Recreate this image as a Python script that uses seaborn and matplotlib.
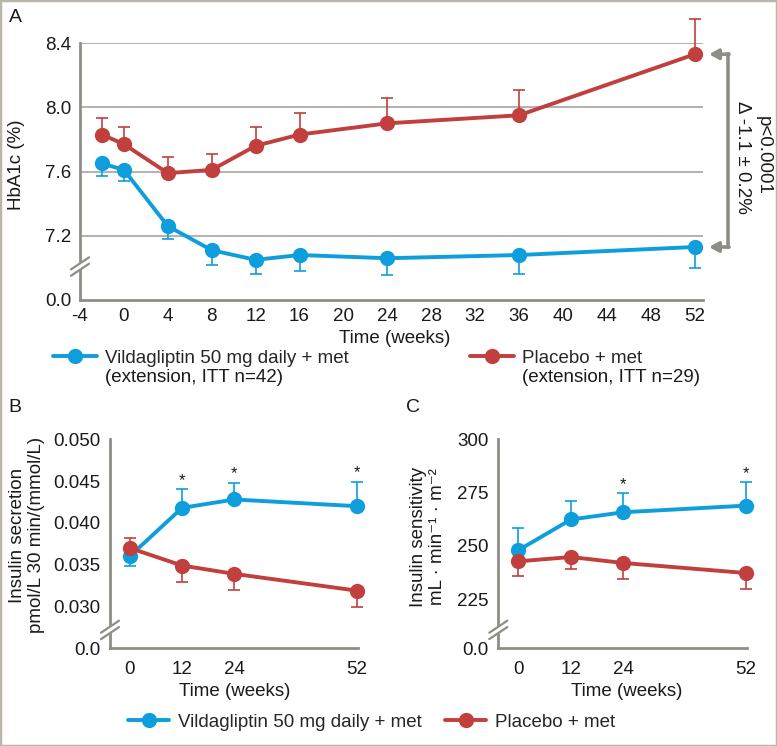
import matplotlib
matplotlib.use("Agg")
import matplotlib.pyplot as plt
import numpy as np
import pandas as pd
import seaborn as sns
from matplotlib.lines import Line2D
from matplotlib.patches import Rectangle

# ---------------- data ----------------
groups = ["Vildagliptin 50 mg daily + met", "Placebo + met"]

weeks_a = [-2, 0, 4, 8, 12, 16, 24, 36, 52]
vilda_a = [7.65, 7.61, 7.26, 7.11, 7.05, 7.08, 7.06, 7.08, 7.13]
vilda_a_lo = [0.08, 0.07, 0.08, 0.09, 0.09, 0.10, 0.105, 0.12, 0.13]
placebo_a = [7.83, 7.77, 7.59, 7.61, 7.76, 7.83, 7.90, 7.95, 8.33]
placebo_a_hi = [0.10, 0.11, 0.10, 0.10, 0.115, 0.135, 0.16, 0.155, 0.22]
yticks_a = [6.8, 7.2, 7.6, 8.0, 8.4]
yticklabels_a = ["0.0", "7.2", "7.6", "8.0", "8.4"]
xticks_a = [-4, 0, 4, 8, 12, 16, 20, 24, 28, 32, 36, 40, 44, 48, 52]

weeks_bc = [0, 12, 24, 52]
vilda_b = [0.0360, 0.0418, 0.0428, 0.0420]
vilda_b_lo = [0.0012, 0, 0, 0]
vilda_b_hi = [0, 0.0022, 0.0020, 0.0029]
placebo_b = [0.0370, 0.0349, 0.0339, 0.0319]
placebo_b_lo = [0, 0.0020, 0.0019, 0.0020]
placebo_b_hi = [0.0012, 0, 0, 0]
star_b = [False, True, True, True]
yticks_b = [0.025, 0.030, 0.035, 0.040, 0.045, 0.050]
yticklabels_b = ["0.0", "0.030", "0.035", "0.040", "0.045", "0.050"]

vilda_c = [248.0, 262.4, 265.8, 268.9]
vilda_c_lo = [0, 0, 0, 0]
vilda_c_hi = [10.5, 8.5, 9.0, 11.0]
placebo_c = [242.8, 244.8, 242.0, 237.3]
placebo_c_lo = [7.0, 5.5, 7.7, 7.6]
placebo_c_hi = [0, 0, 0, 0]
star_c = [False, False, True, True]
yticks_c = [202, 225, 250, 275, 300]
yticklabels_c = ["0.0", "225", "250", "275", "300"]

legend_a_line1 = ["Vildagliptin 50 mg daily + met", "Placebo + met"]
legend_a_line2 = ["(extension, ITT n=42)", "(extension, ITT n=29)"]

# ---------------- style ----------------
sns.set_theme(style="white")
plt.rcParams["font.family"] = ["Liberation Sans", "DejaVu Sans"]
BLUE = "#0e9edc"
RED = "#c1403e"
GRID = "#9c9c98"
SPINE = "#8e8d86"
TXT = "#1a1a1a"
FS = 13.5
palette = {groups[0]: BLUE, groups[1]: RED}

W, H = 777, 746
fig = plt.figure(figsize=(W / 100, H / 100), dpi=100)


def px_axes(l, r, t, b):
    return fig.add_axes([l / W, 1 - b / H, (r - l) / W, (b - t) / H])


ax_a = px_axes(80, 703, 43, 300)
ax_b = px_axes(110, 358, 439.3, 648.3)
ax_c = px_axes(498.3, 747.3, 439.3, 648.3)


def draw_series(ax, x, v_blue, blo, bhi, v_red, rlo, rhi, ms=11, capsize=4):
    for vals, lo, hi, col in [(v_blue, blo, bhi, BLUE), (v_red, rlo, rhi, RED)]:
        eb = ax.errorbar(x, vals, yerr=[lo, hi], fmt="none", ecolor=col,
                         elinewidth=1.2, capsize=capsize, capthick=1.2, zorder=1)
        for art in list(eb.lines[1]) + list(eb.lines[2]):
            art.set_clip_on(False)
    df = pd.DataFrame({
        "week": list(x) * 2,
        "value": list(v_blue) + list(v_red),
        "group": [groups[0]] * len(x) + [groups[1]] * len(x),
    })
    sns.lineplot(data=df, x="week", y="value", hue="group", palette=palette,
                 marker="o", markersize=ms, markeredgewidth=0, linewidth=2.8,
                 errorbar=None, legend=False, ax=ax, zorder=3, clip_on=False)


def style_axes(ax, xlim, ylim, xticks, yticks, yticklabels, xpad, ypad):
    ax.set_xlim(*xlim)
    ax.set_ylim(*ylim)
    ax.set_xticks(xticks)
    ax.set_xticklabels([str(t) for t in xticks])
    ax.set_yticks(yticks)
    ax.set_yticklabels(yticklabels)
    for s in ["top", "right"]:
        ax.spines[s].set_visible(False)
    for s in ["left", "bottom"]:
        ax.spines[s].set_color(SPINE)
        ax.spines[s].set_linewidth(2.0)
    ax.tick_params(axis="both", length=0, labelsize=FS, colors=TXT)
    ax.tick_params(axis="x", pad=xpad)
    ax.tick_params(axis="y", pad=ypad)
    ax.set_facecolor("white")


def axis_break(ax, yfrac):
    trans = ax.transAxes
    bb = ax.get_position()
    dx = 9 / (bb.width * W)
    dy = 6 / (bb.height * H)
    gap = 3.2 / (bb.height * H)
    ax.add_line(Line2D([-dx, dx], [yfrac - dy, yfrac + dy], transform=trans,
                       color="white", lw=5, clip_on=False, zorder=5))
    for off in (-gap, gap):
        ax.add_line(Line2D([-dx, dx], [yfrac - dy + off, yfrac + dy + off],
                           transform=trans, color=SPINE, lw=1.6,
                           clip_on=False, zorder=6))


# ---------------- panel A ----------------
draw_series(ax_a, weeks_a, vilda_a, vilda_a_lo, [0] * len(weeks_a),
            placebo_a, [0] * len(weeks_a), placebo_a_hi)
style_axes(ax_a, (-4, 52.75), (6.8, 8.4), xticks_a, yticks_a, yticklabels_a, 6, 6)
for yv in yticks_a[1:]:
    ax_a.axhline(yv, color=GRID, lw=1.1, zorder=0)
ax_a.set_xlabel("Time (weeks)", fontsize=FS, color=TXT)
ax_a.xaxis.set_label_coords(0.5056, -0.115)
ax_a.set_ylabel("HbA1c (%)", fontsize=FS, color=TXT)
ax_a.yaxis.set_label_coords(-0.088, 0.525)
axis_break(ax_a, 0.13)

# bracket with arrows
xb, xtip = 55.0, 53.3
ax_a.plot([xb, xb], [placebo_a[-1], vilda_a[-1]], color=SPINE, lw=2.6,
          clip_on=False, solid_capstyle="projecting")
for yv in (placebo_a[-1], vilda_a[-1]):
    ax_a.annotate("", xy=(xtip, yv), xytext=(xb + 0.12, yv),
                  arrowprops=dict(arrowstyle="-|>,head_length=0.45,head_width=0.25",
                                  color=SPINE, lw=2.6, shrinkA=0, shrinkB=0),
                  annotation_clip=False)
fig.text(763 / W, 1 - 155 / H, "p<0.0001", rotation=270, ha="center",
         va="center", fontsize=FS, color=TXT)
fig.text(742 / W, 1 - 157 / H, "Δ -1.1 ± 0.2%", rotation=270, ha="center",
         va="center", fontsize=FS, color=TXT)

# legend A (handle aligned with the first text line)
h_blue = Line2D([], [], color=BLUE, marker="o", lw=2.8, ms=11, mew=0)
h_red = Line2D([], [], color=RED, marker="o", lw=2.8, ms=11, mew=0)
legs_a = []
for h, lab, x0 in [(h_blue, legend_a_line1[0], 53), (h_red, legend_a_line1[1], 470)]:
    legs_a.append(fig.legend(handles=[h], labels=[lab], loc="center left",
                             bbox_to_anchor=(x0 / W, 1 - 358 / H), frameon=False,
                             fontsize=FS, handlelength=2.35, handletextpad=0.4,
                             borderpad=0, borderaxespad=0))
fig.canvas.draw()
for leg, lab2 in zip(legs_a, legend_a_line2):
    tb = leg.get_texts()[0].get_window_extent()
    fig.text(tb.x0 / W, 1 - 378 / H, lab2, ha="left", va="center",
             fontsize=FS, color=TXT)

# ---------------- panel B ----------------
draw_series(ax_b, weeks_bc, vilda_b, vilda_b_lo, vilda_b_hi,
            placebo_b, placebo_b_lo, placebo_b_hi, ms=11)
style_axes(ax_b, (-4.5, 52.3), (0.025, 0.050), weeks_bc, yticks_b, yticklabels_b, 9, 7)
ax_b.set_xlabel("Time (weeks)", fontsize=FS, color=TXT)
ax_b.xaxis.set_label_coords(0.504, -0.165)
ax_b.set_ylabel("Insulin secretion\npmol/L 30 min/(mmol/L)", fontsize=FS,
                color=TXT, linespacing=1.15)
ax_b.yaxis.set_label_coords(-0.262, 0.542)
axis_break(ax_b, 0.088)
for xv, yv, hi, s in zip(weeks_bc, vilda_b, vilda_b_hi, star_b):
    if s:
        ax_b.annotate("*", xy=(xv, yv + hi), xytext=(0, 1), textcoords="offset points",
                      ha="center", va="bottom", fontsize=12, color=TXT)

# ---------------- panel C ----------------
draw_series(ax_c, weeks_bc, vilda_c, vilda_c_lo, vilda_c_hi,
            placebo_c, placebo_c_lo, placebo_c_hi, ms=11)
style_axes(ax_c, (-4.6, 52.3), (202, 300), weeks_bc, yticks_c, yticklabels_c, 9, 7)
ax_c.set_xlabel("Time (weeks)", fontsize=FS, color=TXT)
ax_c.xaxis.set_label_coords(0.516, -0.165)
ax_c.set_ylabel("Insulin sensitivity\nmL · min⁻¹ · m⁻²", fontsize=FS,
                color=TXT, linespacing=1.15)
ax_c.yaxis.set_label_coords(-0.21, 0.534)
axis_break(ax_c, 0.088)
for xv, yv, hi, s in zip(weeks_bc, vilda_c, vilda_c_hi, star_c):
    if s:
        ax_c.annotate("*", xy=(xv, yv + hi), xytext=(0, 1), textcoords="offset points",
                      ha="center", va="bottom", fontsize=12, color=TXT)

# bottom legend
for h, lab, x0 in [(h_blue, groups[0], 128), (h_red, groups[1], 445)]:
    fig.legend(handles=[h], labels=[lab], loc="center left",
               bbox_to_anchor=(x0 / W, 1 - 722 / H), frameon=False,
               fontsize=FS, handlelength=2.2, handletextpad=0.45,
               borderpad=0, borderaxespad=0)

# panel letters
fig.text(15 / W, 1 - 17 / H, "A", fontsize=14, ha="center", va="center", color=TXT)
fig.text(15 / W, 1 - 407 / H, "B", fontsize=14, ha="center", va="center", color=TXT)
fig.text(413 / W, 1 - 407 / H, "C", fontsize=14, ha="center", va="center", color=TXT)

# outer frame
fig.patches.append(Rectangle((0, 0), 1, 1, transform=fig.transFigure, fill=False,
                             edgecolor="#b9b5a8", lw=2.5))

fig.savefig("out.png", dpi=100, facecolor="white")
